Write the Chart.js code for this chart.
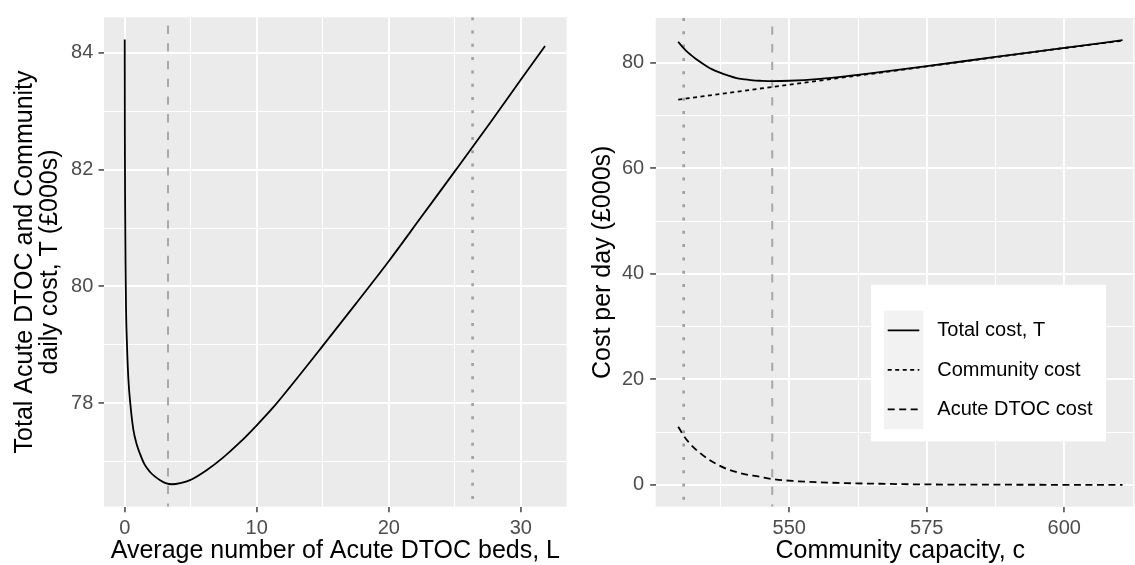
<!DOCTYPE html>
<html><head><meta charset="utf-8">
<script src="https://cdn.jsdelivr.net/npm/chart.js@4.4.1/dist/chart.umd.min.js"></script>
<style>
html,body{margin:0;padding:0;background:#fff;overflow:hidden;width:1135px;height:565px;}
#wrap{position:relative;width:1135px;height:565px;overflow:hidden;background:#fff;}
#c1{position:absolute;left:0;top:0;}
#c2{position:absolute;left:570px;top:0;}
</style></head><body>
<div id="wrap"><canvas id="c1" width="570" height="565"></canvas><canvas id="c2" width="580" height="565"></canvas></div>
<script>
// ---------- Left panel data: total cost T vs average Acute DTOC beds L ----------
const leftL = [0, 0.01, 0.03, 0.06, 0.1, 0.17, 0.28, 0.42, 0.65, 0.9, 1.16, 1.5, 1.92, 2.3, 2.68, 3.1, 3.6, 4.2, 4.95, 6.2, 7.47, 8.74, 10, 11.26, 12.5, 15, 17.5, 20, 22.5, 25, 27.67, 30, 31.84];
const leftT = [84.23, 82.6, 81.4, 80.4, 79.6, 79.0, 78.4, 78.0, 77.55, 77.3, 77.13, 76.95, 76.82, 76.74, 76.68, 76.63, 76.61, 76.63, 76.68, 76.85, 77.07, 77.33, 77.62, 77.93, 78.27, 78.98, 79.7, 80.43, 81.2, 81.97, 82.8, 83.54, 84.12];
const leftXMajor = [0, 10, 20, 30];
const leftXMinor = [5, 15, 25];
const leftYMajor = [78, 80, 82, 84];
const leftYMinor = [77, 79, 81, 83];
const leftVDashed = 3.28;
const leftVDotted = 26.35;

// ---------- Right panel data: costs vs community capacity c ----------
const seriesLabels = ['Total cost, T', 'Community cost', 'Acute DTOC cost'];
const totalC    = [529.8, 530.5, 531.3, 532.2, 533.1, 534.9, 536.0, 537.3, 538.8, 540.4, 542.0, 543.4, 545.0, 546.9, 550.0, 555.6, 561.6, 564.7, 575.0, 587.5, 600.0, 610.6];
const totalCost = [83.98, 83.1, 82.2, 81.4, 80.66, 79.4, 78.75, 78.16, 77.6, 77.09, 76.85, 76.66, 76.58, 76.53, 76.59, 76.96, 77.6, 77.97, 79.35, 81.1, 82.8, 84.28];
const commC     = [529.8, 546.9, 561.6, 575.0, 587.5, 600.0, 610.6];
const commCost  = [73.02, 75.42, 77.45, 79.3, 81.05, 82.78, 84.2];
const acuteC    = [529.8, 531.3, 533.7, 537.4, 541.0, 544.6, 547.0, 550.6, 555.5, 561.6, 567.6, 573.7, 585.0, 600.0, 610.6];
const acuteCost = [11.0, 8.6, 6.1, 3.6, 2.25, 1.56, 1.1, 0.75, 0.5, 0.3, 0.2, 0.1, 0.05, 0.02, 0.01];
const rightXMajor = [550, 575, 600];
const rightXMinor = [537.5, 562.5, 587.5, 612.5];
const rightYMajor = [0, 20, 40, 60, 80];
const rightYMinor = [10, 30, 50, 70];
const rightVDotted = 530.8;
const rightVDashed = 546.9;

// ---------- helpers ----------
const FONT = "'Liberation Sans', Arial, Helvetica, sans-serif";
Chart.defaults.font.family = FONT;
const pts = (xs, ys) => xs.map((x, i) => ({x: x, y: ys[i]}));

function makeScale(major, minor, min, max, title, isX, size, pad, titlePad) {
  const all = major.concat(minor).filter(v => v >= min && v <= max).sort((a, b) => a - b);
  const isMajor = v => major.indexOf(v) !== -1;
  return {
    type: 'linear', min: min, max: max,
    afterBuildTicks: s => { s.ticks = all.map(v => ({value: v})); },
    afterFit: s => { if (isX) s.height = size; else s.width = size; },
    ticks: {
      callback: v => isMajor(v) ? String(v) : '',
      color: '#4D4D4D', font: {size: 20}, padding: pad,
      autoSkip: false, maxRotation: 0, minRotation: 0
    },
    grid: {
      color: '#FFFFFF',
      lineWidth: c => (c.tick && isMajor(c.tick.value)) ? 1.9 : 1.0,
      tickLength: 5.5,
      tickColor: c => (c.tick && isMajor(c.tick.value)) ? '#333333' : 'rgba(0,0,0,0)',
      tickWidth: 1.4
    },
    border: {display: false},
    title: {display: true, text: title, color: '#000000', font: {size: 25, lineHeight: 1.0}, padding: titlePad}
  };
}

function vline(x, y0, y1, dash, width, color, offset) {
  return {data: [{x: x, y: y1}, {x: x, y: y0}], borderColor: color, borderWidth: width,
    borderDash: dash, borderDashOffset: offset, borderCapStyle: 'butt',
    pointRadius: 0, order: 10, isVLine: true, tension: 0};
}
function curve(label, xs, ys, dash) {
  return {label: label, data: pts(xs, ys), borderColor: '#000000', borderWidth: 1.8,
    borderDash: dash, borderCapStyle: 'butt', pointRadius: 0, order: 1,
    cubicInterpolationMode: 'monotone'};
}

const panelBg = {
  id: 'panelBg',
  beforeDraw(chart) {
    const {ctx, chartArea: a} = chart;
    ctx.save();
    ctx.fillStyle = '#EBEBEB';
    ctx.fillRect(a.left, a.top, a.right - a.left, a.bottom - a.top);
    ctx.restore();
  }
};

const insetLegend = {
  id: 'insetLegend',
  afterDraw(chart, args, o) {
    const {ctx, chartArea: a} = chart;
    const items = chart.data.datasets.filter(d => d.label && !d.isVLine);
    const bx = a.left + o.dx, by = a.top + o.dy;
    ctx.save();
    ctx.fillStyle = '#FFFFFF';
    ctx.fillRect(bx, by, o.w, o.h);
    ctx.fillStyle = '#F2F2F2';
    ctx.fillRect(bx + o.keyX, by + o.keyY, o.keyW, o.rowH * items.length);
    items.forEach((d, i) => {
      const cy = by + o.keyY + o.rowH * (i + 0.5);
      ctx.beginPath();
      ctx.setLineDash(d.borderDash || []);
      ctx.lineCap = 'butt';
      ctx.lineWidth = d.borderWidth;
      ctx.strokeStyle = d.borderColor;
      ctx.moveTo(bx + o.keyX + 3.7, cy);
      ctx.lineTo(bx + o.keyX + o.keyW - 4, cy);
      ctx.stroke();
      ctx.setLineDash([]);
      ctx.fillStyle = '#000000';
      ctx.font = '20px ' + FONT;
      ctx.textBaseline = 'middle';
      ctx.textAlign = 'left';
      ctx.fillText(d.label, bx + o.textX, cy + 0.5);
    });
    ctx.restore();
  }
};

const baseOpts = {
  responsive: false, animation: false, devicePixelRatio: 1,
  events: [],
  plugins: {legend: {display: false}, tooltip: {enabled: false}}
};

// ---------- Left chart ----------
const lyMin = 76.225, lyMax = 84.612;
new Chart(document.getElementById('c1'), {
  type: 'line',
  data: {datasets: [
    curve('T', leftL, leftT, []),
    vline(leftVDashed, lyMin, lyMax, [8.3, 9.4], 2, '#A8A8A8', 9.3),
    vline(leftVDotted, lyMin, lyMax, [3, 10.3], 2.6, '#A0A0A0', 0)
  ]},
  options: Object.assign({}, baseOpts, {
    layout: {padding: {top: 13.3, right: 3.3, left: 0, bottom: 0}, autoPadding: false},
    scales: {
      x: makeScale(leftXMajor, leftXMinor, -1.57, 33.48, 'Average number of Acute DTOC beds, L', true, 58.3, 4, {top: 0, bottom: 1}),
      y: makeScale(leftYMajor, leftYMinor, lyMin, lyMax, ['Total Acute DTOC and Community', 'daily cost, T (£000s)'], false, 104, 5.2, {top: 12.6, bottom: 0})
    }
  }),
  plugins: [panelBg]
});

// ---------- Right chart ----------
const ryMin = -4.13, ryMax = 88.48;
new Chart(document.getElementById('c2'), {
  type: 'line',
  data: {datasets: [
    curve(seriesLabels[0], totalC, totalCost, []),
    curve(seriesLabels[1], commC, commCost, [4, 3.5]),
    curve(seriesLabels[2], acuteC, acuteCost, [7, 4.5]),
    vline(rightVDotted, ryMin, ryMax, [3, 10.3], 2.6, '#A0A0A0', 0),
    vline(rightVDashed, ryMin, ryMax, [8.3, 9.4], 2, '#A8A8A8', 9.3)
  ]},
  options: Object.assign({}, baseOpts, {
    layout: {padding: {top: 13.3, right: 5.2, left: 0, bottom: 0}, autoPadding: false},
    plugins: {legend: {display: false}, tooltip: {enabled: false},
      insetLegend: {dx: 215.3, dy: 266.7, w: 235, h: 156.7, keyX: 13, keyY: 26, keyW: 39.3, rowH: 39.5, textX: 66.3}},
    scales: {
      x: makeScale(rightXMajor, rightXMinor, 525.71, 614.64, 'Community capacity, c', true, 58.3, 4, {top: 0, bottom: 1}),
      y: makeScale(rightYMajor, rightYMinor, ryMin, ryMax, 'Cost per day (£000s)', false, 85.7, 6, {top: 21, bottom: 0})
    }
  }),
  plugins: [panelBg, insetLegend]
});
</script>
</body></html>
